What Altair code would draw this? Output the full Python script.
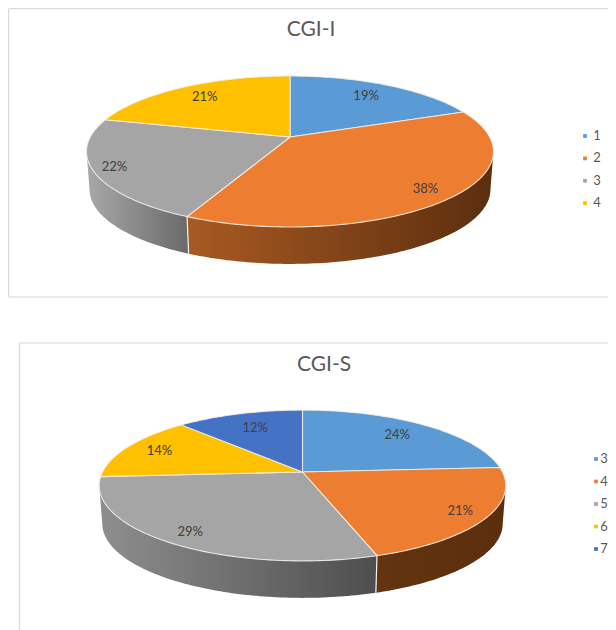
import math
import altair as alt
import pandas as pd

# ---- values ----
titles = ["CGI-I", "CGI-S"]
categories_i = ["1", "2", "3", "4"]
values_i = [19, 38, 22, 21]
categories_s = ["3", "4", "5", "6", "7"]
values_s = [24, 21, 29, 14, 12]
colors_i = ["#5B9BD5", "#ED7D31", "#A5A5A5", "#FFC000"]
colors_s = ["#5B9BD5", "#ED7D31", "#A5A5A5", "#FFC000", "#4472C4"]

# ---- layout (page pixels) ----
W, H = 600, 622
LAYOUT = [
    dict(cx=290, cy=137, a=199.7, b=72.7, k=-0.192, depth=38.3, shrink=0.985,
         frame=(8.6, 8.6, 297), title=(311, 30), legend=(585, 597, 136, 22.4),
         label_f=[0.76, 0.87, 0.90, 0.78],
         walls={1: ("#A85A22", "#5B2E0E"), 2: ("#A8A8A8", "#6A6A6A")}),
    dict(cx=302.5, cy=472, a=200, b=73, k=-0.179, depth=38.3, shrink=0.985,
         frame=(19.5, 343, 660), title=(324, 365), legend=(596, 604, 459, 22.5),
         label_f=[0.76, 0.87, 0.87, 0.81, 0.72],
         walls={1: ("#63340F", "#5B2E0E"), 2: ("#8E8E8E", "#4E4E4E")}),
]
FONT = "Lato"

sx = alt.Scale(domain=[8, 8 + W], range=[0, W], nice=False, zero=False)
sy = alt.Scale(domain=[8 + H, 8], range=[H, 0], nice=False, zero=False)
X = alt.X("x:Q", scale=sx, axis=None)
Y = alt.Y("y:Q", scale=sy, axis=None)


def project(L, deg, f=1.0, bottom=False):
    t = math.radians(deg)
    u, v = f * math.sin(t), -f * math.cos(t)
    d = 1 + L["k"] * v
    s = L["shrink"] if bottom else 1.0
    off = L["depth"] if bottom else 0.0
    return L["cx"] + s * L["a"] * u / d, L["cy"] + off + s * L["b"] * v / d


def arc_angles(a0, a1):
    n = max(2, int(abs(a1 - a0)) + 1)
    return [a0 + (a1 - a0) * i / (n - 1) for i in range(n)]


def poly(points, fill, stroke=None, sw=0.0):
    df = pd.DataFrame([dict(x=x, y=y, i=i) for i, (x, y) in enumerate(points)])
    kw = dict(fill=fill, clip=False)
    if stroke:
        kw.update(stroke=stroke, strokeWidth=sw, strokeOpacity=0.85)
    else:
        kw.update(strokeWidth=0)
    return alt.Chart(df).mark_line(**kw).encode(x=X, y=Y, order=alt.Order("i:Q"))


def gradient(c0, c1):
    return alt.Gradient(
        gradient="linear", x1=0, x2=1, y1=0, y2=0,
        stops=[alt.GradientStop(color=c0, offset=0), alt.GradientStop(color=c1, offset=1)],
    )


def segment(x0, y0, x1, y1, color, sw):
    df = pd.DataFrame([dict(x=x0, y=y0, x2=x1, y2=y1)])
    return alt.Chart(df).mark_rule(color=color, strokeWidth=sw, clip=False).encode(
        x=X, y=Y, x2="x2:Q", y2="y2:Q"
    )


layers = []
for L, title, cats, vals, cols in zip(
    LAYOUT, titles, [categories_i, categories_s], [values_i, values_s], [colors_i, colors_s]
):
    # frame
    fx, ftop, fbot = L["frame"]
    layers.append(segment(fx, ftop, 8 + W + 2, ftop, "#D9D9D9", 1.2))
    layers.append(segment(fx, ftop, fx, min(fbot, 8 + H + 2), "#D9D9D9", 1.2))
    if fbot < 8 + H:
        layers.append(segment(fx, fbot, 8 + W + 2, fbot, "#D9D9D9", 1.2))

    # cumulative slice boundaries
    total = sum(vals)
    edges = [0.0]
    for v in vals:
        edges.append(edges[-1] + v / total * 360)

    # side walls, visible between the two silhouette angles
    rim = math.degrees(math.acos(L["k"]))
    left_rim = 360 - rim
    for idx, (c0, c1) in L["walls"].items():
        a0 = max(edges[idx], rim)
        a1 = min(edges[idx + 1], left_rim)
        angs = arc_angles(a0, a1)
        top = [project(L, t) for t in angs]
        bot = [project(L, t, bottom=True) for t in reversed(angs)]
        pts = top + bot + [top[0]]
        layers.append(poly(pts, gradient(c0, c1)))
    # white seam where the walls meet
    seam = edges[2]
    sx0, sy0 = project(L, seam)
    sx1, sy1 = project(L, seam, bottom=True)
    layers.append(segment(sx0, sy0, sx1, sy1, "#F2F2F2", 1.2))

    # top face
    for i, c in enumerate(cols):
        pts = [(L["cx"], L["cy"])] + [project(L, t) for t in arc_angles(edges[i], edges[i + 1])]
        pts.append((L["cx"], L["cy"]))
        layers.append(poly(pts, c, "#F4F0E8", 1.1))

    # percent labels
    lab = []
    for i, v in enumerate(vals):
        x, y = project(L, (edges[i] + edges[i + 1]) / 2, L["label_f"][i])
        lab.append(dict(x=x, y=y, t=f"{v}%"))
    layers.append(
        alt.Chart(pd.DataFrame(lab))
        .mark_text(font=FONT, fontSize=13, color="#404040", clip=False)
        .encode(x=X, y=Y, text="t:N")
    )

    # title
    tx, ty = L["title"]
    layers.append(
        alt.Chart(pd.DataFrame([dict(x=tx, y=ty, t=title)]))
        .mark_text(font=FONT, fontSize=21, color="#595959", clip=False)
        .encode(x=X, y=Y, text="t:N")
    )

    # legend
    mx, lx, ly, step = L["legend"]
    leg = pd.DataFrame(
        [dict(x=mx, tx=lx, y=ly + step * i, t=c, col=cols[i]) for i, c in enumerate(cats)]
    )
    layers.append(
        alt.Chart(leg)
        .mark_square(size=14, opacity=1, clip=False)
        .encode(x=X, y=Y, color=alt.Color("col:N", scale=None))
    )
    layers.append(
        alt.Chart(leg)
        .mark_text(font=FONT, fontSize=13, color="#595959", clip=False)
        .encode(x=alt.X("tx:Q", scale=sx, axis=None), y=Y, text="t:N")
    )

chart = (
    alt.layer(*layers)
    .resolve_scale(x="shared", y="shared", color="independent")
    .properties(width=W, height=H, padding=0, background="white",
                autosize=alt.AutoSizeParams(type="none", contains="content"))
    .configure_view(stroke=None)
)
chart.save("out.html", embed_options={"renderer": "svg", "actions": False})
